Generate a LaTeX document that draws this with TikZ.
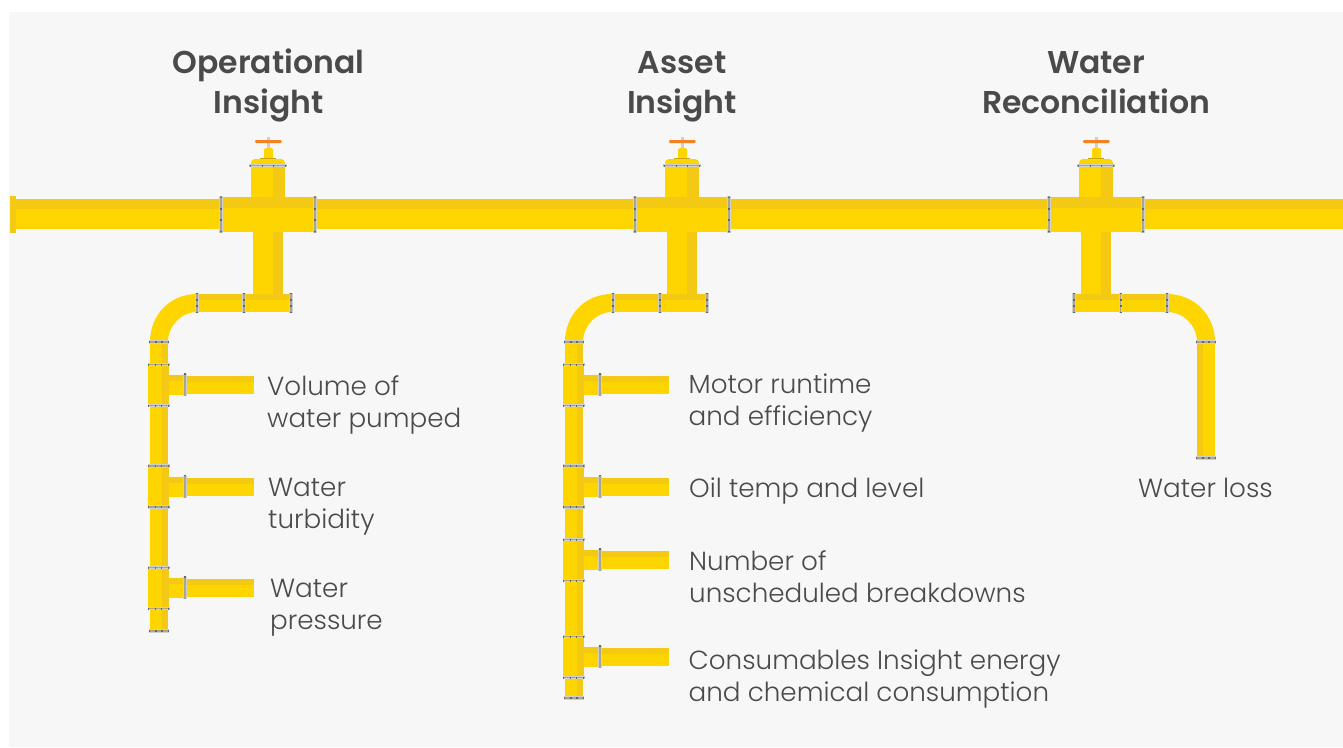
\documentclass[tikz,border=0pt]{standalone}
\usepackage{fontspec}
\setmainfont{Poppins Light}
\newfontfamily\headfont{Poppins SemiBold}
\definecolor{pipeY}{HTML}{FFD500}
\definecolor{pipeS}{HTML}{F4C914}
\definecolor{bgG}{HTML}{F7F7F7}
\definecolor{txtG}{HTML}{4A4A4A}
\definecolor{flL}{HTML}{CFCFCB}
\definecolor{flD}{HTML}{A8A690}
\definecolor{dotD}{HTML}{666666}
\definecolor{handle}{HTML}{F58220}
\definecolor{collar}{HTML}{C9A50E}
\tikzset{
  py/.style={fill=pipeY,draw=none},
  ps/.style={fill=pipeS,draw=none},
  head/.style={font=\headfont\fontsize{31.5}{40}\selectfont,text=txtG,align=center,inner sep=0pt,anchor=base},
  lab/.style={font=\fontsize{26.2}{32}\selectfont,text=txtG,align=left,inner sep=0pt,anchor=base west},
}
% horizontal-running pipe piece: x1 x2 y1 yshade y2
\newcommand{\myhpipe}[5]{\fill[py] (#1,#3) rectangle (#2,#5);\fill[ps] (#1,#3) rectangle (#2,#4);}
% vertical-running pipe piece: y1 y2 x1 xshadeA xshadeB x2
\newcommand{\myvpipe}[6]{\fill[py] (#3,#1) rectangle (#6,#2);\fill[ps] (#4,#1) rectangle (#5,#2);}
% flange across a horizontal pipe (vertical bar): x y1 y2
\newcommand{\myvflange}[3]{\fill[flL] (#1-1.8,#2) rectangle (#1+1.8,#3);\fill[flD] (#1-0.8,#2) rectangle (#1+0.8,#3);
  \foreach \t in {0.03,0.35,0.65,0.97}{\fill[dotD] ({#1-1},{#2+\t*(#3-#2)-0.6}) rectangle ({#1+1},{#2+\t*(#3-#2)+0.6});}}
% flange across a vertical pipe (horizontal bar): y x1 x2
\newcommand{\myhflange}[3]{\fill[flL] (#2,#1-1.8) rectangle (#3,#1+1.8);\fill[flD] (#2,#1-0.8) rectangle (#3,#1+0.8);
  \foreach \t in {0.03,0.35,0.65,0.97}{\fill[dotD] ({#2+\t*(#3-#2)-0.6},{#1-1}) rectangle ({#2+\t*(#3-#2)+0.6},{#1+1});}}
% T piece with a branch: dx centre-y
\newcommand{\mybranch}[2]{%
  \begin{scope}[xshift=#1pt]
  \myhpipe{185}{253.5}{#2-9}{#2-3}{#2+9}
  \myhpipe{168}{185}{#2-10}{#2-4}{#2+10}
  \myvflange{185}{#2-11}{#2+11}
  \myvpipe{#2-20.5}{#2+20.5}{148}{162}{169}{169}
  \myhflange{#2-20.5}{147.5}{169.5}
  \myhflange{#2+20.5}{147.5}{169.5}
  \end{scope}}
% valve, cross and drop: dx
\newcommand{\myvalve}[1]{%
  \begin{scope}[xshift=#1pt]
  \fill[flL] (267,137) rectangle (269.5,149);
  \fill[handle,rounded corners=1pt] (255,140) rectangle (281.5,143);
  \fill[py,rounded corners=1.5pt] (264,148) rectangle (273,160);
  \fill[collar] (260,158) rectangle (276,160);
  \fill[py,rounded corners=4pt] (251,159) rectangle (285,180);
  \myvpipe{165}{198}{251}{273}{285}{285}
  \myhflange{165.5}{249}{287}
  \myvpipe{231}{295}{253}{273}{283}{283}
  \myhpipe{221}{315}{197}{208}{232}
  \myvflange{221}{196}{233}
  \myvflange{315}{196}{233}
  \end{scope}}
\begin{document}
\begin{tikzpicture}[x=1pt,y=-1pt]
\useasboundingbox (0,0) rectangle (1343,747);
\fill[white] (0,0) rectangle (1343,747);
\fill[bgG] (9,12) rectangle (1343,747);
% main pipe
\myhpipe{16}{1343}{199}{209}{229}
\fill[pipeS] (10,196) rectangle (16,233);
\myvalve{0}\myvalve{414}\myvalve{828}
% column 1
\myvpipe{342}{631}{150}{162}{168}{168}
\fill[py] (197,294) .. controls (170,294) and (150,315) .. (150,342) -- (168,342) .. controls (168,326) and (181,312) .. (197,312) -- cycle;
\myhpipe{197}{291}{294}{300}{312}
\myvflange{197}{293}{313}\myvflange{244}{293}{313}\myvflange{291}{293}{313}
\myhflange{342}{149}{169}
\mybranch{0}{385}\mybranch{0}{486.5}\mybranch{0}{588}
\myhflange{631}{149}{169}
% column 2
\begin{scope}[xshift=415pt]
\myvpipe{342}{698}{150}{162}{168}{168}
\fill[py] (197,294) .. controls (170,294) and (150,315) .. (150,342) -- (168,342) .. controls (168,326) and (181,312) .. (197,312) -- cycle;
\myhpipe{197}{292}{294}{300}{312}
\myvflange{198}{293}{313}\myvflange{245}{293}{313}\myvflange{292}{293}{313}
\myhflange{342}{149}{169}
\myhflange{698}{149}{169}
\end{scope}
\mybranch{415}{385}\mybranch{415}{486.5}\mybranch{415}{560}\mybranch{415}{657}
% column 3
\myhpipe{1074}{1167}{294}{300}{312}
\fill[py] (1167,294) .. controls (1194,294) and (1215,315) .. (1215,342) -- (1197,342) .. controls (1197,326) and (1184,312) .. (1167,312) -- cycle;
\myvpipe{342}{458}{1197}{1197}{1203}{1215}
\myvflange{1074}{293}{313}\myvflange{1120.5}{293}{313}\myvflange{1167}{293}{313}
\myhflange{342}{1196}{1216}
\myhflange{458}{1196}{1216}
% titles
\node[head] (t1) at (268.5,113) {Operational\\Insight};
\node[head] (t2) at (682,113) {Asset\\Insight};
\node[head] (t3) at (1096,113) {Water\\Reconciliation};
% labels
\node[lab] (a1) at (267,427) {Volume of\\water pumped};
\node[lab] (a2) at (268,528) {Water\\turbidity};
\node[lab] (a3) at (270,629) {Water\\pressure};
\node[lab] (b1) at (688.5,425) {Motor runtime\\and efficiency};
\node[lab] (b2) at (689,497) {Oil temp and level};
\node[lab] (b3) at (689,602) {Number of\\unscheduled breakdowns};
\node[lab] (b4) at (688.5,701) {Consumables Insight energy\\and chemical consumption};
\node[lab] (c1) at (1138,497) {Water loss};
\end{tikzpicture}
\end{document}
